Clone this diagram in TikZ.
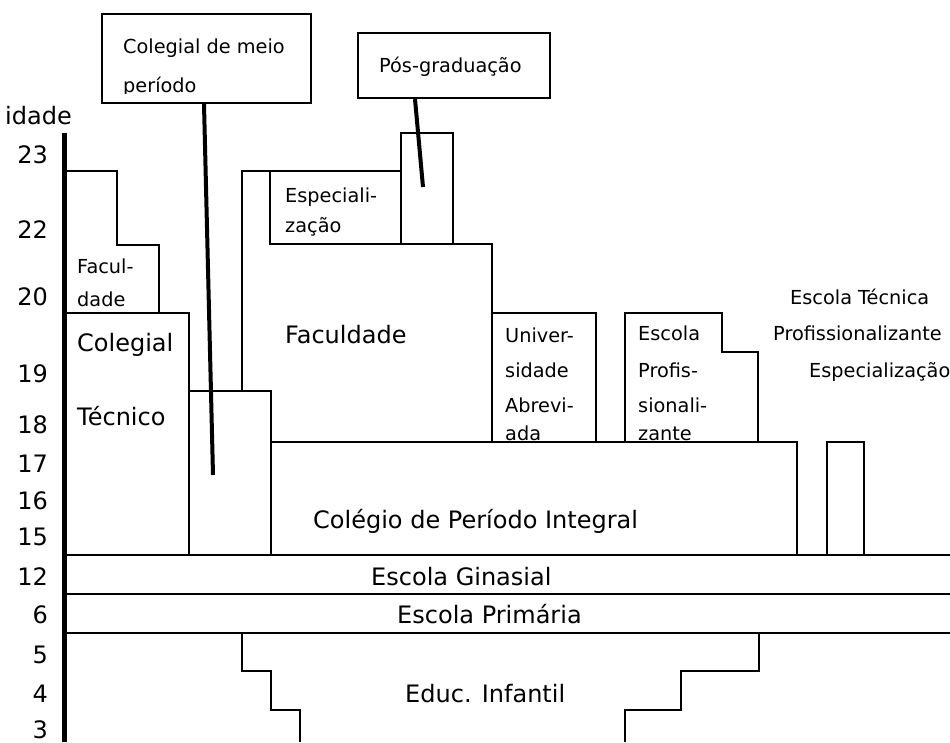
\documentclass[tikz,border=0pt]{standalone}
\usepackage{fontspec}
\setmainfont{DejaVu Sans}
\tikzset{
  outline/.style={line width=2.3pt, line join=miter},
  axisline/.style={line width=5pt},
  conn/.style={line width=4pt},
  labelbox/.style={draw, line width=2.3pt, inner sep=0pt},
  big/.style={font=\fontsize{24}{28}\selectfont, inner sep=0pt, anchor=base west},
  small/.style={font=\fontsize{19.3}{23}\selectfont, inner sep=0pt, anchor=base west},
  num/.style={font=\fontsize{24}{28}\selectfont, inner sep=0pt, anchor=base east},
}
\begin{document}
\begin{tikzpicture}[x=1pt,y=-1pt]
\useasboundingbox (0,0) rectangle (950,742);

% age axis
\draw[axisline] (64,133) -- (64,742);
\node[big] (idade) at (5,124) {idade};
\node[num] (n23) at (48,163) {23};
\node[num] (n22) at (48,238) {22};
\node[num] (n20) at (48,305) {20};
\node[num] (n19) at (48,382) {19};
\node[num] (n18) at (48,433) {18};
\node[num] (n17) at (48,472) {17};
\node[num] (n16) at (48,509) {16};
\node[num] (n15) at (48,545) {15};
\node[num] (n12) at (48,585) {12};
\node[num] (n6) at (48,623) {6};
\node[num] (n5) at (48,663) {5};
\node[num] (n4) at (48,702) {4};
\node[num] (n3) at (48,738) {3};

% left Faculdade steps
\draw[outline] (64,171) -- (117,171) -- (117,245) -- (159,245) -- (159,313);
% Colegial Tecnico
\draw[outline] (64,313) -- (189,313) -- (189,555);
% Colegial de meio periodo block
\draw[outline] (189,391) -- (271,391) -- (271,555);
% big Faculdade block
\draw[outline] (242,391) -- (242,171) -- (401,171);
\draw[outline] (401,244) -- (401,133) -- (453,133) -- (453,244);
\draw[outline] (270,171) -- (270,244) -- (492,244) -- (492,442);
% Universidade abreviada
\draw[outline] (492,313) -- (596,313) -- (596,442);
% Colegio de periodo integral
\draw[outline] (271,442) -- (797,442) -- (797,555);
% Escola profissionalizante
\draw[outline] (625,442) -- (625,313) -- (722,313) -- (722,352) -- (758,352) -- (758,442);
% small box right
\draw[outline] (827,555) -- (827,442) -- (864,442) -- (864,555);
% horizontal bands
\draw[outline] (64,555) -- (950,555);
\draw[outline] (64,594) -- (950,594);
\draw[outline] (64,633) -- (950,633);
% Educ infantil
\draw[outline] (242,633) -- (242,671) -- (271,671) -- (271,710) -- (300,710) -- (300,742);
\draw[outline] (759,633) -- (759,671) -- (681,671) -- (681,710) -- (625,710) -- (625,742);

% texts
\node[small] (fa1) at (77,273) {Facul-};
\node[small] (fa2) at (77,306) {dade};
\node[big] (col1) at (77,351) {Colegial};
\node[big] (col2) at (77,425) {Técnico};
\node[big] (fac) at (285,343) {Faculdade};
\node[small] (esp1) at (285,202) {Especiali-};
\node[small] (esp2) at (285,232) {zação};
\node[small] (un1) at (505,342) {Univer-};
\node[small] (un2) at (505,377) {sidade};
\node[small] (un3) at (505,412) {Abrevi-};
\node[small] (un4) at (505,440) {ada};
\node[small] (ep1) at (638,340) {Escola};
\node[small] (ep2) at (638,377) {Profis-};
\node[small] (ep3) at (638,412) {sionali-};
\node[small] (ep4) at (638,440) {zante};
\node[small] (et1) at (790,304) {Escola Técnica};
\node[small] (et2) at (773,340) {Profissionalizante};
\node[small] (et3) at (809,377) {Especialização};
\node[big] (cpi) at (313,528) {Colégio de Período Integral};
\node[big] (gin) at (371,585) {Escola Ginasial};
\node[big] (pri) at (397,623) {Escola Primária};
\node[big] (inf) at (405,702) {Educ. Infantil};

% callout boxes
\node[labelbox, minimum width=209pt, minimum height=89pt] (cmp) at (206.5,58.5) {};
\node[small] (cmpt1) at (123,53) {Colegial de meio};
\begin{scope}
  \clip (102,14) rectangle (311,93);
  \node[small] (cmpt2) at (123,92) {período};
\end{scope}
\coordinate (cmpend) at (213,475);
\draw[conn] ([xshift=-2.5pt]cmp.south) -- (cmpend);

\node[labelbox, minimum width=192pt, minimum height=65pt] (pg) at (454,65.5) {};
\node[small] (pgt) at (379,72) {Pós-graduação};
\coordinate (pgend) at (423,187);
\draw[conn] ([xshift=-39pt]pg.south) -- (pgend);
\end{tikzpicture}
\end{document}
